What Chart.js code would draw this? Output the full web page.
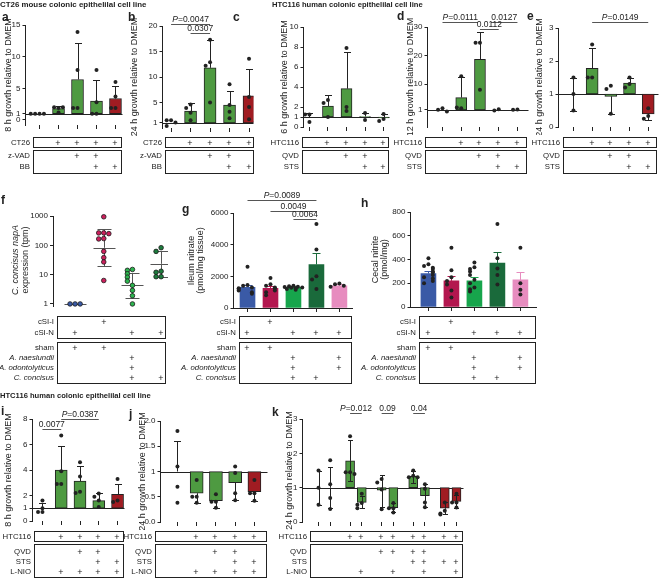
<!DOCTYPE html>
<html>
<head>
<meta charset="utf-8">
<script src="https://cdn.jsdelivr.net/npm/chart.js@4.4.1/dist/chart.umd.min.js"></script>
<style>
  body { margin: 0; background: #fff; width: 660px; height: 579px; position: relative; overflow: hidden;
         font-family: 'Liberation Sans', Arial, Helvetica, sans-serif; color: #222; }
  canvas { position: absolute; }
  .t { position: absolute; white-space: nowrap; font-size: 7.8px; line-height: 1; filter: grayscale(100%); }
  .box { position: absolute; border: 1.2px solid #222; box-sizing: border-box; }
</style>
</head>
<body>
<script>
// ==========================================
// Data
// ==========================================

// a: CT26, 8 h
const aMeans = [1, 1.8, 6.4, 3.0, 3.4];
const aLo = [null, null, null, null, null];
const aHi = [null, 2.2, 12.2, 6.3, 5.4];
const aPoints = [[1, 1, 1, 1], [1.2, 1.9, 2.0, 2.0], [13.9, 7.9, 1.9, 1.9], [7.9, 2.8, 1.0, 1.0], [6.0, 3.7, 1.9, 1.9]];
const aTicks = [0, 1, 5, 10, 15];
const aCT26 = [0, 1, 1, 1, 1];
const aZVAD = [0, 0, 1, 1, 0];
const aBB = [0, 0, 0, 1, 1];

// b: CT26, 24 h
const bMeans = [1, 3.3, 11.8, 4.5, 6.3];
const bLo = [null, null, null, null, null];
const bHi = [null, 4.9, 17.2, 7.3, 11.6];
const bPoints = [[1.5, 1.5, 1.1, 0.4], [4.6, 3.9, 3.0, 1.5], [17.3, 12.9, 12.2, 5.0], [8.6, 4.5, 3.2, 1.9], [13.6, 6.1, 4.1, 1.7]];
const bTicks = [1, 5, 10, 15, 20];
const bCT26 = [0, 1, 1, 1, 1];
const bZVAD = [0, 0, 1, 1, 0];
const bBB = [0, 0, 0, 1, 1];

// c: HTC116, 6 h
const cMeans = [1, 2.1, 3.83, 1.05, 0.9];
const cLo = [null, null, null, null, null];
const cHi = [1.43, 3.17, 7.47, 1.4, 1.3];
const cPoints = [[1.25, 1.25, 0.5], [2.7, 2.4, 1.0], [7.9, 2.0, 1.6], [1.4, 0.7], [1.3, 0.8, 0.6]];
const cTicks = [0, 1, 2, 4, 6, 8, 10];

// d: HTC116, 12 h
const dMeans = [1, 5.3, 18.7, 1.0, 1.0];
const dLo = [null, null, null, null, null];
const dHi = [null, 12.4, 28.2, null, null];
const dPoints = [[1.6, 1.0, 0.4], [12.8, 1.6, 1.8], [24.5, 24.5, 8.0], [1.2, 0.8], [1.1, 1.0]];
const dTicks = [1, 10, 20, 30];

// e: HTC116, 24 h
const eMeans = [1, 1.78, 0.93, 1.33, 0.4];
const eLo = [0.5, null, 0.38, null, 0.22];
const eHi = [1.5, 2.4, null, 1.5, null];
const ePoints = [[1.5, 1.0, 0.5], [2.5, 1.5, 1.5], [1.25, 1.15, 0.4], [1.5, 1.3, 1.2], [0.57, 0.33, 0.25]];
const eTicks = [0, 1, 2, 3];

// HTC116 / QVD / STS rows (c, d, e)
const hHTC = [0, 1, 1, 1, 1];
const hQVD = [0, 0, 1, 1, 0];
const hSTS = [0, 0, 0, 1, 1];

// f: napA expression (tpm), median with range
const fMed = [1, 83, 4.5, 23.5];
const fLo = [1, 19.6, 1.6, 8.2];
const fHi = [1, 355, 11.3, 62];
const fPoints = [[1, 1, 1], [940, 265, 265, 250, 170, 165, 62, 38, 27, 6.3],
                 [15, 14, 10.7, 8.2, 6, 4.3, 2.9, 1.9, 1], [83, 62, 13, 12, 8.5, 8.5]];
const fTicks = [1, 10, 100, 1000];
const fCSII = [0, 1, 0, 0];
const fCSIN = [1, 0, 1, 1];
const fSham = [1, 1, 0, 0];
const fNaes = [0, 0, 1, 0];
const fOdon = [0, 0, 1, 0];
const fConc = [0, 0, 1, 1];

// g: ileum nitrate (pmol/mg tissue)
const gMeans = [1300, 1250, 1300, 2750, 1400];
const gHi = [1480, 1380, 1380, 3500, 1520];
const gPoints = [[2600, 1450, 1400, 1300, 1250, 1200, 1100, 1000, 900],
                 [1900, 1500, 1400, 1300, 1250, 1100, 1000, 800],
                 [1400, 1380, 1350, 1320, 1300, 1280, 1250, 1200, 1150],
                 [5300, 3700, 2000, 1800, 1200],
                 [1550, 1500, 1400, 1350]];
const gTicks = [0, 2000, 4000, 6000];

// h: cecal nitrite (pmol/mg)
const hMeans = [282, 220, 220, 369, 228];
const hHi = [304, 262, 251, 459, 296];
const hPoints = [[410, 360, 345, 330, 320, 300, 290, 270, 250, 240, 220, 200],
                 [500, 310, 250, 220, 190, 140, 80],
                 [375, 335, 320, 300, 270, 230, 200, 165, 150, 130],
                 [700, 410, 325, 270, 190],
                 [500, 200, 145, 105]];
const hTicks = [0, 200, 400, 600, 800];

// rows shared by g and h
const ghCSII = [0, 1, 0, 0, 0];
const ghCSIN = [1, 0, 1, 1, 1];
const ghSham = [1, 1, 0, 0, 0];
const ghNaes = [0, 0, 1, 0, 1];
const ghOdon = [0, 0, 1, 0, 1];
const ghConc = [0, 0, 1, 1, 0];

// i: HTC116 + L-NIO, 8 h
const iMeans = [1, 4.0, 3.13, 1.6, 2.1];
const iLo = [null, null, null, null, null];
const iHi = [1.45, 5.9, 4.3, 2.16, 2.9];
const iPoints = [[1.6, 1.0, 0.7, 0.7], [6.7, 3.9, 2.9, 2.9], [4.6, 3.5, 2.3, 2.2], [2.16, 1.9, 1.6, 1.1], [3.3, 1.6, 1.5]];
const iTicks = [0, 1, 2, 4, 6, 8];

// j: HTC116 + L-NIO, 24 h
const jMeans = [1, 0.57, 0.42, 0.78, 0.6];
const jLo = [null, 0.38, 0.27, 0.43, 0.42];
const jHi = [1.6, null, null, null, null];
const jPoints = [[1.8, 1.1, 0.7, 0.38], [0.83, 0.5, 0.5, 0.38], [0.55, 0.4, 0.4, 0.28], [1.1, 0.97, 0.57, 0.43], [0.83, 0.57, 0.57, 0.42]];
const jTicks = [0, 0.5, 1, 1.5, 2];
const jTickLabels = ['0.0', '0.5', '1', '1.5', '2.0'];

// rows shared by i and j
const ijHTC = [0, 1, 1, 1, 1];
const ijQVD = [0, 0, 1, 1, 0];
const ijSTS = [0, 0, 0, 1, 1];
const ijLNIO = [0, 1, 1, 1, 1];

// k: HTC116, 24 h, paired with/without L-NIO
const kMeans = [1, 1, 1.78, 0.57, 0.93, 0.42, 1.33, 0.77, 0.4, 0.6];
const kLo = [0.5, 0.4, 1.2, 0.4, 0.45, 0.3, 1.15, 0.43, 0.22, 0.42];
const kHi = [1.5, 1.6, 2.4, 0.75, 1.38, 0.55, 1.5, 1.1, 0.57, 0.8];
const kPoints = [[1.5, 1.0, 0.5], [1.8, 1.1, 0.7, 0.38], [2.5, 1.45, 1.45, 1.4], [0.82, 0.55, 0.5, 0.4],
                 [1.25, 1.15, 0.95, 0.37], [0.55, 0.4, 0.4, 0.28], [1.5, 1.35, 1.3, 1.3], [1.1, 0.97, 0.57, 0.43],
                 [0.57, 0.33, 0.25, 0.22], [0.82, 0.57, 0.57, 0.42]];
const kTicks = [0, 1, 2, 3];
const kHTC = [0, 0, 1, 1, 1, 1, 1, 1, 1, 1];
const kQVD = [0, 0, 0, 0, 1, 1, 1, 1, 0, 0];
const kSTS = [0, 0, 0, 0, 0, 0, 1, 1, 1, 1];
const kLNIO = [0, 0, 0, 1, 0, 1, 0, 1, 0, 1];

// ==========================================
// Styles
// ==========================================
const FONT = "'Liberation Sans', Arial, Helvetica, sans-serif";
const INK = '#222';
const G = '#4e9a41', R = '#a01c22';
const BLUE = '#3a5aa6', CRIM = '#b3174f', LGRN = '#17a54c', DGRN = '#1a6a3b', PINK = '#e78cbf';
const JIT = [0, -2.2, 2.2, -4.4, 4.4, -1.1, 1.1, -3.3, 3.3, -5.5, 5.5, 0, -2.2, 2.2];

Chart.defaults.font.family = FONT;
Chart.defaults.color = INK;

// ==========================================
// Helpers
// ==========================================
function txt(x, y, s, o = {}) {
    const d = document.createElement('div');
    d.className = 't';
    d.innerHTML = s;
    d.style.left = x + 'px';
    d.style.top = y + 'px';
    const tx = o.align === 'right' ? '-100%' : o.align === 'center' ? '-50%' : '0';
    d.style.transform = `translate(${tx},-50%)`;
    if (o.size) d.style.fontSize = o.size + 'px';
    if (o.bold) d.style.fontWeight = 'bold';
    if (o.italic) d.style.fontStyle = 'italic';
    if (o.css) d.style.cssText += o.css;
    document.body.appendChild(d);
    return d;
}

// baseline, error bars, significance lines
const decor = {
    id: 'decor',
    beforeDatasetsDraw(chart, args, o) {
        if (!o.baseLine) return;
        const { ctx, chartArea: a, scales: { y } } = chart;
        const py = Math.round(y.getPixelForValue(o.base)) + 0.5;
        ctx.save();
        ctx.strokeStyle = INK;
        ctx.lineWidth = 1;
        ctx.beginPath();
        ctx.moveTo(a.left, py);
        ctx.lineTo(a.right, py);
        ctx.stroke();
        ctx.restore();
    },
    beforeDatasetDraw(chart, args, o) {
        if (chart.data.datasets[args.index].type !== 'scatter') return;
        const { ctx, scales: { x, y } } = chart;
        ctx.save();
        ctx.lineWidth = 1;
        o.centers.forEach((m, i) => {
            const px = Math.round(x.getPixelForValue(o.xs[i])) + 0.5;
            const py = y.getPixelForValue(m);
            ctx.strokeStyle = o.errColors ? o.errColors[i] : INK;
            [o.lo[i], o.hi[i]].forEach(e => {
                if (e == null) return;
                const pe = Math.round(y.getPixelForValue(e)) + 0.5;
                ctx.beginPath();
                ctx.moveTo(px, py);
                ctx.lineTo(px, pe);
                ctx.moveTo(px - o.cap, pe);
                ctx.lineTo(px + o.cap, pe);
                ctx.stroke();
            });
            if (o.median) {
                const pm = Math.round(py) + 0.5;
                ctx.beginPath();
                ctx.moveTo(px - o.median, pm);
                ctx.lineTo(px + o.median, pm);
                ctx.stroke();
            }
        });
        ctx.restore();
    },
    afterDraw(chart, args, o) {
        const { ctx, chartArea: a, scales: { x } } = chart;
        (o.sig || []).forEach(s => {
            const x0 = x.getPixelForValue(o.xs[s.a]) + (s.padL || 0);
            const x1 = x.getPixelForValue(o.xs[s.b]) - (s.padR || 0);
            const py = Math.round(a.top + s.dy) + 0.5;
            ctx.save();
            ctx.strokeStyle = '#555';
            ctx.lineWidth = 1;
            ctx.beginPath();
            ctx.moveTo(x0, py);
            ctx.lineTo(x1, py);
            ctx.stroke();
            ctx.fillStyle = INK;
            const reg = `8.5px ${FONT}`, ita = `italic 8.5px ${FONT}`;
            let head = '', rest = s.text;
            if (rest.startsWith('P=')) { head = 'P'; rest = rest.slice(1); }
            ctx.font = ita;
            const hw = head ? ctx.measureText(head).width : 0;
            ctx.font = reg;
            const rw = ctx.measureText(rest).width;
            let tx = (x0 + x1) / 2 - (hw + rw) / 2;
            const ty = py - 2.5;
            if (head) { ctx.font = ita; ctx.fillText(head, tx, ty); tx += hw; }
            ctx.font = reg;
            ctx.fillText(rest, tx, ty);
            ctx.restore();
        });
    }
};

// =====================================================
// Build one panel
// =====================================================
function panel(p) {
    const lh = 9;
    const cx = p.titleX != null ? p.titleX - lh / 2 : p.plot.l - 32;
    const cy = p.plot.t - 26;
    const cw = Math.ceil(p.plot.r + 2 - cx);
    const ch = Math.ceil(p.plot.b + 8 - cy);
    const cv = document.createElement('canvas');
    cv.width = cw;
    cv.height = ch;
    cv.style.left = cx + 'px';
    cv.style.top = cy + 'px';
    cv.style.width = cw + 'px';
    cv.style.height = ch + 'px';
    document.body.appendChild(cv);

    const xs = p.xs || p.centers.map((_, i) => i);
    const pxPerX = (p.plot.r - p.plot.l) / (p.xMax - p.xMin);
    const yPix = p.log
        ? v => (Math.log10(v) - Math.log10(p.yMin)) / (Math.log10(p.yMax) - Math.log10(p.yMin)) * (p.plot.b - p.plot.t)
        : v => (v - p.yMin) / (p.yMax - p.yMin) * (p.plot.b - p.plot.t);

    // spread points that would overlap
    const pts = [], ptCol = [];
    p.points.forEach((grp, i) => {
        const placed = [];
        grp.forEach(v => {
            const py = yPix(v);
            const slot = placed.filter(q => Math.abs(q - py) < p.pr * 1.8).length;
            placed.push(py);
            pts.push({ x: xs[i] + JIT[slot] * p.pr / pxPerX, y: v });
            ptCol.push(p.pointColors ? p.pointColors[i] : INK);
        });
    });

    const datasets = [];
    if (p.bars) {
        datasets.push({
            type: 'bar',
            order: 2,
            data: p.centers.map((m, i) => ({ x: xs[i], y: m === p.base ? null : [p.base, m] })),
            backgroundColor: p.colors,
            borderColor: p.barBorder === false ? p.colors : INK,
            borderWidth: p.barBorder === false ? 0 : 1,
            borderSkipped: false,
            barThickness: p.barW
        });
    }
    datasets.push({
        type: 'scatter',
        order: 1,
        data: pts,
        pointRadius: p.pr,
        pointBackgroundColor: ptCol,
        pointBorderColor: p.pointColors ? '#1a1a1a' : INK,
        pointBorderWidth: p.pointColors ? 0.8 : 0,
        clip: false
    });

    const chart = new Chart(cv.getContext('2d'), {
        type: 'bar',
        data: { datasets },
        plugins: [decor],
        options: {
            responsive: false,
            animation: false,
            events: [],
            layout: { autoPadding: false, padding: { left: 0, top: p.plot.t - cy, right: cx + cw - p.plot.r, bottom: 0 } },
            plugins: {
                legend: { display: false },
                tooltip: { enabled: false },
                decor: {
                    baseLine: p.baseLine, base: p.base, xs,
                    centers: p.centers, lo: p.lo, hi: p.hi, cap: p.cap,
                    errColors: p.errColors, median: p.median, sig: p.sig
                }
            },
            scales: {
                x: {
                    type: 'linear', min: p.xMin, max: p.xMax, offset: false,
                    afterBuildTicks: s => { s.ticks = p.xTicks === false ? [] : xs.map(v => ({ value: v })); },
                    afterFit: s => { s.height = 8; },
                    ticks: { display: false },
                    grid: { display: p.xTicks !== false, offset: false, drawOnChartArea: false, tickLength: 4, color: INK },
                    border: { display: !!p.xBorder, color: INK, width: 1 }
                },
                y: {
                    type: p.log ? 'logarithmic' : 'linear', min: p.yMin, max: p.yMax,
                    afterBuildTicks: s => { s.ticks = p.yTicks.map(v => ({ value: v })); },
                    afterFit: s => { s.width = p.plot.l - cx; },
                    ticks: {
                        autoSkip: false, padding: 2, color: INK, font: { size: 8 },
                        callback: v => p.yLabels ? p.yLabels[p.yTicks.indexOf(v)] : String(v)
                    },
                    grid: { drawOnChartArea: false, tickLength: 3, color: INK },
                    border: { display: true, color: INK, width: 1 },
                    title: {
                        display: p.title != null, text: p.title, color: INK,
                        font: { size: 9, lineHeight: 1 }, padding: { top: 0, bottom: 0 }
                    }
                }
            }
        }
    });

    // condition table under the chart
    if (p.table) {
        const tb = p.table;
        tb.boxes.forEach(b => {
            const d = document.createElement('div');
            d.className = 'box';
            d.style.left = tb.x0 + 'px';
            d.style.top = b.y0 + 'px';
            d.style.width = (tb.x1 - tb.x0) + 'px';
            d.style.height = (b.y1 - b.y0) + 'px';
            document.body.appendChild(d);
            b.rows.forEach(r => {
                txt(tb.x0 - 3, r.y, r.label, { align: 'right', italic: r.italic });
                r.marks.forEach((m, i) => {
                    if (m) txt(Math.round(cx + chart.scales.x.getPixelForValue(xs[i])), r.y, '+', { align: 'center', size: 9 });
                });
            });
        });
    }
    return chart;
}

// table layouts
function topTable(x0, x1, first, r1, r2, l0, l1, l2) {
    return { x0, x1, boxes: [
        { y0: 137, y1: 148, rows: [{ label: l0, y: 142.5, marks: first }] },
        { y0: 149.5, y1: 173.5, rows: [{ label: l1, y: 156, marks: r1 }, { label: l2, y: 167, marks: r2 }] }
    ] };
}
function midTable(x0, x1, m) {
    return { x0, x1, boxes: [
        { y0: 316, y1: 339, rows: [{ label: 'cSI-I', y: 322, marks: m[0] }, { label: 'cSI-N', y: 332.5, marks: m[1] }] },
        { y0: 341.5, y1: 384, rows: [
            { label: 'sham', y: 348, marks: m[2] },
            { label: 'A. naeslundii', y: 357.5, marks: m[3], italic: true },
            { label: 'A. odontolyticus', y: 368, marks: m[4], italic: true },
            { label: 'C. concisus', y: 378, marks: m[5], italic: true }
        ] }
    ] };
}
function botTable(x0, x1, m) {
    return { x0, x1, boxes: [
        { y0: 531, y1: 542, rows: [{ label: 'HTC116', y: 536.5, marks: m[0] }] },
        { y0: 544, y1: 578, rows: [
            { label: 'QVD', y: 551.5, marks: m[1] },
            { label: 'STS', y: 561.5, marks: m[2] },
            { label: 'L-NIO', y: 571.5, marks: m[3] }
        ] }
    ] };
}

// =====================================================
// Panels
// =====================================================
const std = { bars: true, baseLine: true, base: 1, pr: 2, cap: 3.5 };

panel({ ...std, plot: { l: 25, r: 122, t: 25, b: 125 }, xMin: -0.74, xMax: 4.37, yMin: -0.79, yMax: 15,
    yTicks: aTicks, centers: aMeans, lo: aLo, hi: aHi, points: aPoints, colors: [G, G, G, G, R], barW: 12,
    titleX: 8, title: '8 h growth relative to DMEM',
    table: topTable(33, 122, aCT26, aZVAD, aBB, 'CT26', 'z-VAD', 'BB') });

panel({ ...std, plot: { l: 162, r: 253, t: 26, b: 128 }, xMin: -0.44, xMax: 4.23, yMin: 0, yMax: 20,
    yTicks: bTicks, centers: bMeans, lo: bLo, hi: bHi, points: bPoints, colors: [G, G, G, G, R], barW: 12,
    titleX: 134, title: '24 h growth relative to DMEM',
    sig: [{ a: 0, b: 2, dy: -2, text: 'P=0.0047' }, { a: 1, b: 2, dy: 7, text: '0.0307' }],
    table: topTable(165, 254, bCT26, bZVAD, bBB, 'CT26', 'z-VAD', 'BB') });

panel({ ...std, plot: { l: 303, r: 389, t: 27, b: 127 }, xMin: -0.32, xMax: 4.32, yMin: 0, yMax: 10,
    yTicks: cTicks, centers: cMeans, lo: cLo, hi: cHi, points: cPoints, colors: [G, G, G, G, G], barW: 11,
    titleX: 284, title: '6 h growth relative to DMEM',
    table: topTable(302, 389, hHTC, hQVD, hSTS, 'HTC116', 'QVD', 'STS') });

panel({ ...std, plot: { l: 427, r: 528, t: 27, b: 127 }, xMin: -0.8, xMax: 4.59, yMin: -5, yMax: 30,
    yTicks: dTicks, centers: dMeans, lo: dLo, hi: dHi, points: dPoints, colors: [G, G, G, G, G], barW: 11,
    titleX: 410, title: '12 h growth relative to DMEM',
    sig: [{ a: 0, b: 2, dy: -5.5, padR: 2, text: 'P=0.0111' }, { a: 2, b: 4, dy: -5.5, padL: 11, text: '0.0127' },
          { a: 2, b: 3, dy: 2, text: '0.0112' }],
    table: topTable(425, 527, hHTC, hQVD, hSTS, 'HTC116', 'QVD', 'STS') });

panel({ ...std, plot: { l: 558, r: 658, t: 28, b: 127 }, xMin: -0.8, xMax: 4.55, yMin: 0, yMax: 3,
    yTicks: eTicks, centers: eMeans, lo: eLo, hi: eHi, points: ePoints, colors: [G, G, G, G, R], barW: 12,
    titleX: 539, title: '24 h growth relative to DMEM',
    sig: [{ a: 1, b: 4, dy: -6.3, text: 'P=0.0149' }],
    table: topTable(563, 657, hHTC, hQVD, hSTS, 'HTC116', 'QVD', 'STS') });

panel({ plot: { l: 53, r: 166, t: 215.7, b: 305.4 }, log: true, xMin: -0.77, xMax: 3.17, yMin: 0.85, yMax: 1000,
    yTicks: fTicks, centers: fMed, lo: fLo, hi: fHi, points: fPoints, pr: 2.3, cap: 7, median: 11,
    errColors: ['#555', '#555', '#555', '#555'], pointColors: [BLUE, '#cc1f5c', '#2cb44e', '#1d7a3d'], xTicks: false,
    table: midTable(57, 166, [fCSII, fCSIN, fSham, fNaes, fOdon, fConc]) });

panel({ bars: true, base: 0, xBorder: true, pr: 2, cap: 4, plot: { l: 233, r: 352, t: 212.5, b: 307 },
    xMin: -0.61, xMax: 4.57, yMin: 0, yMax: 6000, yTicks: gTicks, centers: gMeans, lo: [null, null, null, null, null], hi: gHi,
    points: gPoints, colors: [BLUE, CRIM, LGRN, DGRN, PINK], errColors: [BLUE, CRIM, LGRN, DGRN, PINK], barBorder: false, barW: 15,
    titleX: 191, title: ['Ileum nitrate', '(pmol/mg tissue)'],
    sig: [{ a: 0, b: 3, dy: -13, text: 'P=0.0089' }, { a: 1, b: 3, dy: -2.5, text: '0.0049' }, { a: 2, b: 3, dy: 6, text: '0.0064' }],
    table: midTable(239, 352, [ghCSII, ghCSIN, ghSham, ghNaes, ghOdon, ghConc]) });

panel({ bars: true, base: 0, xBorder: true, pr: 2, cap: 4, plot: { l: 410, r: 536, t: 212, b: 307 },
    xMin: -0.78, xMax: 4.7, yMin: 0, yMax: 800, yTicks: hTicks, centers: hMeans, lo: [null, null, null, null, null], hi: hHi,
    points: hPoints, colors: [BLUE, CRIM, LGRN, DGRN, PINK], errColors: [BLUE, CRIM, LGRN, DGRN, PINK], barBorder: false, barW: 15,
    titleX: 375, title: ['Cecal nitrite', '(pmol/mg)'],
    table: midTable(419, 536, [ghCSII, ghCSIN, ghSham, ghNaes, ghOdon, ghConc]) });

panel({ ...std, plot: { l: 32, r: 124, t: 419, b: 520.7 }, xMin: -0.53, xMax: 4.37, yMin: 0, yMax: 8,
    yTicks: iTicks, centers: iMeans, lo: iLo, hi: iHi, points: iPoints, colors: [G, G, G, G, R], barW: 12,
    titleX: 8, title: '8 h growth relative to DMEM',
    sig: [{ a: 0, b: 1, dy: 10.3, text: '0.0077' }, { a: 1, b: 3, dy: 0.3, text: 'P=0.0387' }],
    table: botTable(34, 124, [ijHTC, ijQVD, ijSTS, ijLNIO]) });

panel({ ...std, plot: { l: 160, r: 267, t: 420.7, b: 520.7 }, xMin: -0.88, xMax: 4.68, yMin: 0, yMax: 2,
    yTicks: jTicks, yLabels: jTickLabels, centers: jMeans, lo: jLo, hi: jHi, points: jPoints, colors: [G, G, G, G, R], barW: 13,
    titleX: 142, title: '24 h growth relative to DMEM',
    table: botTable(155, 267, [ijHTC, ijQVD, ijSTS, ijLNIO]) });

panel({ ...std, cap: 2.5, plot: { l: 302, r: 463, t: 419, b: 521.7 }, xMin: -1.37, xMax: 12.4,
    xs: kMeans.map((_, i) => i + Math.floor(i / 2) * 0.7),
    yMin: 0, yMax: 3, yTicks: kTicks, centers: kMeans, lo: kLo, hi: kHi, points: kPoints,
    colors: [G, G, G, G, G, G, G, G, R, R], barW: 9,
    titleX: 289, title: '24 h growth relative to DMEM',
    sig: [{ a: 2, b: 3, dy: -6.3, text: 'P=0.012' }, { a: 4, b: 5, dy: -6.3, text: '0.09' }, { a: 6, b: 7, dy: -6.3, text: '0.04' }],
    table: botTable(310, 463, [kHTC, kQVD, kSTS, kLNIO]) });

// =====================================================
// Headings, panel letters, f axis title
// =====================================================
txt(0, 4.5, 'CT26 mouse colonic epithelilal cell line', { bold: true, size: 7.9 });
txt(272, 4.5, 'HTC116 human colonic epithelilal cell line', { bold: true, size: 7.6 });
txt(0, 396, 'HTC116 human colonic epithelilal cell line', { bold: true, size: 7.6 });

[['a', 2, 17], ['b', 128, 17], ['c', 233, 17], ['d', 397, 16], ['e', 527, 16],
 ['f', 1, 200], ['g', 182, 209], ['h', 361, 203],
 ['i', 1, 411], ['j', 129, 414], ['k', 272, 412]].forEach(([s, x, y]) => txt(x, y, s, { bold: true, size: 12 }));

const fl = txt(20, 260, '<i>C. concisus napA</i><br>expression (tpm)', { size: 9, css: 'text-align:center;line-height:10px;' });
fl.style.transform = 'translate(-50%,-50%) rotate(-90deg)';
</script>
</body>
</html>
